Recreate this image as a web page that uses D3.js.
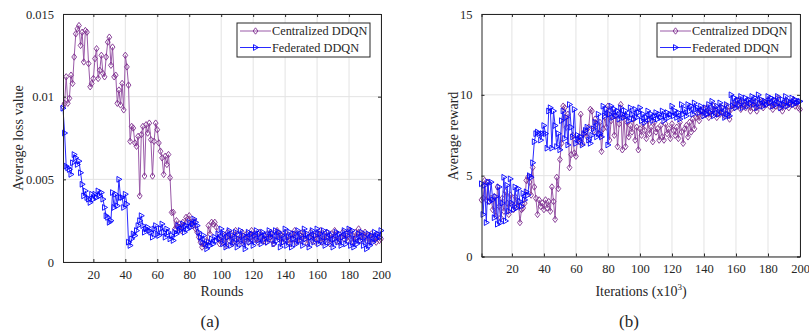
<!DOCTYPE html>
<html>
<head>
<meta charset="utf-8">
<script src="https://cdn.jsdelivr.net/npm/d3@7/dist/d3.min.js"></script>
<style>
  body { margin: 0; background: #fff; }
  svg text { font-family: "Liberation Serif", "Times New Roman", serif; fill: #262626; }
</style>
</head>
<body>
<svg id="fig" width="809" height="331"></svg>
<script>
// x index: rounds / iterations 1..200
const rounds = d3.range(1, 201);
const xTicks = [20, 40, 60, 80, 100, 120, 140, 160, 180, 200];

const lossTicks = [0, 0.005, 0.01, 0.015];
const lossTickLabels = ['0', '0.005', '0.01', '0.015'];
const rewardTicks = [0, 5, 10, 15];
const rewardTickLabels = ['0', '5', '10', '15'];

const seriesNames = ['Centralized DDQN', 'Federated DDQN'];

// (a) average loss value
const lossCentral = [
  .0094, .0096, .0112, .0096, .0099, .0113, .0108, .0124, .0138, .0141,
  .0143, .0131, .0139, .0121, .0140, .0139, .0120, .0106, .0108, .0111,
  .0123, .0129, .0111, .0116, .0125, .0114, .0112, .0124, .0133, .0136,
  .0119, .0130, .0112, .0113, .0096, .0104, .0095, .0108, .0092, .0125,
  .0118, .0107, .0073, .0082, .0081, .0072, .0070, .0076, .0040, .0077,
  .0082, .0052, .0083, .0078, .0084, .0074, .0052, .0073, .0084, .0080,
  .0072, .0067, .0063, .0053, .0064, .0059, .0065, .0051, .0030, .0030,
  .0020, .0025, .0021, .0023, .0019, .0024, .0022, .0027, .0026, .0028,
  .0024, .0022, .0025, .0020, .0018, .0015, .0012, .0009, .0011, .0010,
  .0013, .0022, .0017, .0024, .0023, .0024, .0021, .0014, .0011, .0015,
  .0012, .0016, .0010, .0018, .0013, .0017, .0011, .0015, .0019, .0012,
  .0016, .0013, .0018, .0011, .0014, .0017, .0012, .0015, .0019, .0013,
  .0017, .0014, .0012, .0018, .0015, .0013, .0016, .0012, .0017, .0014,
  .0018, .0013, .0011, .0016, .0019, .0014, .0017, .0012, .0015, .0018,
  .0013, .0016, .0011, .0017, .0014, .0019, .0012, .0015, .0017, .0013,
  .0018, .0014, .0016, .0011, .0015, .0018, .0013, .0016, .0012, .0017,
  .0014, .0019, .0012, .0016, .0013, .0018, .0015, .0011, .0017, .0014,
  .0019, .0013, .0016, .0012, .0015, .0018, .0014, .0017, .0013, .0019,
  .0014, .0016, .0012, .0018, .0015, .0020, .0013, .0017, .0014, .0018,
  .0013, .0016, .0012, .0017, .0014, .0015, .0012, .0016, .0013, .0014
];
const lossFederated = [
  .0093, .0078, .0058, .0057, .0056, .0053, .0060, .0065, .0063, .0059,
  .0061, .0054, .0047, .0040, .0043, .0039, .0038, .0036, .0041, .0038,
  .0041, .0039, .0043, .0040, .0042, .0038, .0033, .0028, .0027, .0024,
  .0025, .0042, .0033, .0041, .0034, .0050, .0039, .0039, .0033, .0041,
  .0035, .0012, .0010, .0014, .0017, .0016, .0019, .0022, .0025, .0028,
  .0022, .0018, .0020, .0021, .0019, .0018, .0015, .0020, .0022, .0017,
  .0016, .0020, .0023, .0018, .0015, .0020, .0018, .0014, .0016, .0013,
  .0018, .0017, .0022, .0019, .0020, .0023, .0018, .0022, .0020, .0024,
  .0021, .0023, .0026, .0024, .0022, .0018, .0015, .0012, .0016, .0011,
  .0008, .0012, .0010, .0014, .0011, .0015, .0013, .0017, .0014, .0020,
  .0011, .0017, .0009, .0015, .0019, .0010, .0016, .0012, .0018, .0009,
  .0014, .0019, .0011, .0016, .0008, .0015, .0018, .0012, .0017, .0010,
  .0016, .0019, .0013, .0017, .0011, .0018, .0014, .0016, .0012, .0019,
  .0015, .0017, .0011, .0019, .0013, .0018, .0009, .0016, .0012, .0020,
  .0010, .0015, .0018, .0009, .0014, .0017, .0011, .0019, .0013, .0016,
  .0010, .0020, .0014, .0017, .0009, .0015, .0019, .0012, .0016, .0020,
  .0011, .0017, .0013, .0019, .0010, .0015, .0018, .0012, .0016, .0009,
  .0014, .0018, .0012, .0017, .0010, .0015, .0019, .0011, .0016, .0020,
  .0010, .0019, .0009, .0014, .0011, .0017, .0013, .0018, .0010, .0015,
  .0008, .0017, .0010, .0016, .0012, .0018, .0014, .0017, .0015, .0019
];

// (b) average reward
const rewardCentral = [
  3.5, 3.6, 4.7, 3.5, 4.6, 3.4, 3.6, 2.9, 3.7, 2.5,
  4.3, 3.1, 2.4, 3.6, 2.8, 4.0, 3.3, 2.6, 3.8, 3.2,
  2.9, 3.7, 3.1, 3.4, 2.1, 2.9, 3.0, 3.3, 4.7, 4.9,
  4.6, 3.8, 5.5, 4.3, 3.6, 2.6, 3.5, 3.1, 3.3, 2.9,
  3.5, 3.0, 3.4, 2.8, 4.3, 3.4, 2.3, 4.9, 4.2, 6.0,
  7.0, 9.3, 9.2, 8.0, 8.8, 5.5, 6.3, 7.5, 6.4, 6.2,
  7.3, 7.1, 8.8, 7.0, 7.6, 7.7, 7.4, 8.0, 9.1, 9.0,
  7.8, 8.5, 8.2, 7.6, 8.3, 6.5, 7.9, 8.6, 8.0, 9.3,
  7.2, 8.4, 8.9, 7.5, 8.7, 6.8, 8.2, 9.4, 6.6, 8.7,
  6.8, 8.3, 7.4, 8.1, 7.7, 8.5, 7.2, 8.0, 6.6, 7.9,
  7.5, 8.2, 7.8, 7.3, 8.4, 7.6, 8.0, 7.1, 8.3, 7.7,
  7.9, 7.2, 8.1, 7.4, 7.2, 8.2, 7.6, 7.9, 7.3, 8.2,
  7.8, 7.5, 8.0, 7.3, 8.3, 7.7, 7.0, 7.9, 8.1, 7.4,
  8.3, 7.7, 8.5, 7.9, 8.6, 8.8, 8.4, 9.0, 8.7, 9.1,
  8.8, 9.2, 8.6, 9.0, 8.8, 9.3, 8.9, 8.6, 9.1, 8.8,
  9.2, 8.9, 8.7, 9.3, 9.0, 8.5, 9.1, 9.4, 9.2, 9.6,
  9.3, 9.7, 9.1, 9.5, 9.4, 9.2, 9.6, 9.3, 9.0, 9.5,
  9.2, 9.6, 9.0, 9.4, 9.3, 9.6, 9.2, 9.5, 9.4, 9.7,
  9.3, 9.5, 9.1, 9.6, 9.3, 9.8, 9.2, 9.4, 9.0, 9.5,
  9.3, 9.6, 9.2, 9.5, 9.4, 9.7, 9.3, 9.5, 9.2, 9.1
];
const rewardFederated = [
  4.5, 2.6, 4.4, 2.1, 4.6, 3.4, 4.6, 3.5, 2.4, 3.7,
  2.0, 4.3, 2.1, 3.3, 4.9, 2.2, 4.4, 2.8, 4.8, 3.3,
  2.9, 4.3, 3.0, 4.2, 3.4, 3.1, 3.9, 3.5, 4.0, 3.8,
  5.0, 4.9, 5.8, 7.1, 7.6, 7.7, 7.6, 7.2, 7.6, 8.1,
  7.6, 6.7, 9.0, 9.2, 6.7, 9.0, 8.1, 6.8, 7.6, 6.6,
  8.4, 9.0, 7.3, 8.6, 6.9, 9.4, 8.0, 7.4, 9.1, 7.0,
  7.5, 7.2, 7.4, 6.9, 7.6, 7.8, 8.0, 7.2, 7.0, 7.5,
  7.9, 8.3, 7.4, 8.8, 7.6, 7.4, 9.3, 8.7, 9.1, 6.9,
  8.8, 9.3, 8.6, 9.1, 8.7, 9.0, 8.5, 9.2, 8.8, 8.6,
  9.0, 8.7, 8.4, 9.2, 8.8, 8.5, 9.1, 8.6, 8.9, 9.2,
  8.4, 8.8, 8.3, 8.6, 9.0, 8.5, 8.8, 8.4, 8.7, 8.9,
  8.5, 8.8, 8.6, 9.0, 8.4, 8.7, 8.9, 8.6, 8.8, 9.3,
  8.7, 9.0, 8.6, 8.9, 8.5, 9.4, 8.8, 9.1, 8.7, 9.4,
  9.0, 9.3, 8.8, 9.5, 9.1, 9.2, 8.9, 9.3, 9.0, 8.7,
  9.2, 8.8, 9.4, 8.9, 9.6, 8.7, 9.1, 9.3, 8.8, 9.5,
  8.9, 9.2, 8.6, 9.4, 8.8, 8.7, 10.0, 9.3, 9.8, 9.2,
  9.7, 9.4, 9.9, 9.2, 9.6, 9.8, 9.3, 9.7, 9.5, 9.9,
  9.4, 9.8, 9.2, 10.0, 9.5, 9.7, 9.3, 9.6, 9.4, 9.9,
  9.5, 9.8, 9.3, 9.7, 9.4, 9.9, 9.5, 9.2, 9.7, 9.4,
  9.9, 9.3, 9.6, 9.5, 9.8, 9.4, 9.7, 9.5, 9.6, 9.6
];

const colors = ['#7e2f8e', '#0000ff'];
const lineColors = ['#9a5aa8', '#2a2aff'];
// marker shapes: diamond and right-pointing triangle
const markers = ['M0,-3.2L2.4,0L0,3.2L-2.4,0Z', 'M3,0L-2,-2.9L-2,2.9Z'];

const svg = d3.select('#fig');

function drawPanel(p) {
  const w = p.right - p.left, h = p.bottom - p.top;
  const x = d3.scaleLinear().domain([1, 200]).range([0, w]);
  const y = d3.scaleLinear().domain(p.yDomain).range([h, 0]);
  const g = svg.append('g').attr('transform', 'translate(' + p.left + ',' + p.top + ')');

  // grid
  g.append('g').selectAll('line').data(xTicks).join('line')
    .attr('x1', d => x(d)).attr('x2', d => x(d)).attr('y1', 0).attr('y2', h)
    .attr('stroke', '#e3e3e3').attr('stroke-width', 1);
  g.append('g').selectAll('line').data(p.yTicks).join('line')
    .attr('y1', d => y(d)).attr('y2', d => y(d)).attr('x1', 0).attr('x2', w)
    .attr('stroke', '#e3e3e3').attr('stroke-width', 1);

  // series, federated drawn last
  const line = d3.line().x((d, i) => x(rounds[i])).y(d => y(d));
  p.series.forEach((s, k) => {
    g.append('path').datum(s)
      .attr('d', line)
      .attr('fill', 'none')
      .attr('stroke', lineColors[k])
      .attr('stroke-width', 1);
    g.append('g').selectAll('path').data(s).join('path')
      .attr('d', markers[k])
      .attr('transform', (d, i) => 'translate(' + x(rounds[i]) + ',' + y(d) + ')')
      .attr('fill', 'none')
      .attr('stroke', colors[k])
      .attr('stroke-width', 0.9);
  });

  // axes with inward ticks (box on)
  const ax = '#262626';
  const xb = g.append('g').attr('transform', 'translate(0,' + h + ')')
    .call(d3.axisBottom(x).tickValues(xTicks).tickSize(-3).tickPadding(8));
  const xt = g.append('g').call(d3.axisTop(x).tickValues(xTicks).tickSize(-3).tickFormat(''));
  const yl = g.append('g')
    .call(d3.axisLeft(y).tickValues(p.yTicks).tickSize(-3).tickPadding(9)
      .tickFormat((d, i) => p.yTickLabels[i]));
  const yr = g.append('g').attr('transform', 'translate(' + w + ',0)')
    .call(d3.axisRight(y).tickValues(p.yTicks).tickSize(-3).tickFormat(''));
  [xb, xt, yl, yr].forEach(a => {
    a.select('.domain').attr('stroke', ax).attr('stroke-width', 1);
    a.selectAll('.tick line').attr('stroke', ax);
    a.selectAll('text').attr('font-size', 12.5).attr('fill', ax)
      .attr('font-family', '"Liberation Serif", serif');
  });

  // axis labels
  g.append('text').attr('x', p.xLabelX - p.left).attr('y', 296 - p.top)
    .attr('text-anchor', 'middle').attr('font-size', 14)
    .call(t => {
      t.append('tspan').text(p.xLabel);
      if (p.xLabelSup) {
        t.append('tspan').attr('font-size', 9).attr('dy', -6).text(p.xLabelSup);
        t.append('tspan').attr('dy', 6).text(')');
      }
    });
  g.append('text')
    .attr('transform', 'translate(' + (p.yLabelX - p.left) + ',' + (p.yLabelY - p.top) + ') rotate(-90)')
    .attr('text-anchor', 'middle').attr('dy', '0.35em').attr('font-size', 14)
    .text(p.yLabel);

  // caption
  svg.append('text').attr('x', p.capX).attr('y', 327)
    .attr('text-anchor', 'middle').attr('font-size', 17).text(p.caption);

  // legend
  const lg = svg.append('g').attr('transform', 'translate(' + p.legX + ',23)');
  lg.append('rect').attr('width', p.legW).attr('height', 34)
    .attr('fill', '#fff').attr('stroke', '#262626').attr('stroke-width', 1);
  seriesNames.forEach((name, k) => {
    const cy = 8 + k * 16.5;
    lg.append('line').attr('x1', 3).attr('x2', 34).attr('y1', cy).attr('y2', cy)
      .attr('stroke', lineColors[k]).attr('stroke-width', 1);
    lg.append('path').attr('d', markers[k]).attr('transform', 'translate(18.5,' + cy + ')')
      .attr('fill', 'none').attr('stroke', colors[k]).attr('stroke-width', 0.9);
    lg.append('text').attr('x', 35).attr('y', cy).attr('dy', '0.35em')
      .attr('font-size', 12.3).text(name);
  });
}

drawPanel({
  left: 63, right: 381, top: 14, bottom: 262,
  yDomain: [0, 0.015], yTicks: lossTicks, yTickLabels: lossTickLabels,
  series: [lossCentral, lossFederated],
  xLabel: 'Rounds', xLabelX: 222,
  yLabel: 'Average loss value', yLabelX: 18, yLabelY: 138,
  caption: '(a)', capX: 210,
  legX: 237, legW: 133
});

drawPanel({
  left: 481.5, right: 800, top: 14, bottom: 256.5,
  yDomain: [0, 15], yTicks: rewardTicks, yTickLabels: rewardTickLabels,
  series: [rewardCentral, rewardFederated],
  xLabel: 'Iterations (x10', xLabelSup: '3', xLabelX: 641,
  yLabel: 'Average reward', yLabelX: 453, yLabelY: 136,
  caption: '(b)', capX: 629,
  legX: 657, legW: 134
});
</script>
</body>
</html>
